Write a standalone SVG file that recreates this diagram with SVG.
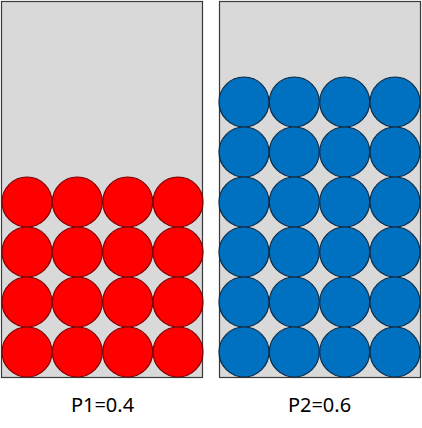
<svg xmlns="http://www.w3.org/2000/svg" width="422" height="428" viewBox="0 0 422 428">
<style>
.box{fill:#d9d9d9;stroke:#3a3a3a;stroke-width:1.2}
.r{fill:#ff0000;stroke:#7a0000;stroke-width:1.2}
.b{fill:#0070c0;stroke:#0d2a44;stroke-width:1.2}
.lbl{font-family:"Noto Sans","Open Sans","DejaVu Sans",sans-serif;font-size:20px;fill:#000;text-anchor:middle}
</style>
<g id="container1">
<rect class="box" x="1.5" y="1.5" width="201" height="376"/>
<g id="red-balls">
<circle class="r" cx="27" cy="202" r="25"/><circle class="r" cx="77.3" cy="202" r="25"/><circle class="r" cx="127.7" cy="202" r="25"/><circle class="r" cx="178" cy="202" r="25"/>
<circle class="r" cx="27" cy="252" r="25"/><circle class="r" cx="77.3" cy="252" r="25"/><circle class="r" cx="127.7" cy="252" r="25"/><circle class="r" cx="178" cy="252" r="25"/>
<circle class="r" cx="27" cy="302" r="25"/><circle class="r" cx="77.3" cy="302" r="25"/><circle class="r" cx="127.7" cy="302" r="25"/><circle class="r" cx="178" cy="302" r="25"/>
<circle class="r" cx="27" cy="352" r="25"/><circle class="r" cx="77.3" cy="352" r="25"/><circle class="r" cx="127.7" cy="352" r="25"/><circle class="r" cx="178" cy="352" r="25"/>
</g>
<text class="lbl" x="102.5" y="412">P1=0.4</text>
</g>
<g id="container2">
<rect class="box" x="219.5" y="1.5" width="201" height="376"/>
<g id="blue-balls">
<circle class="b" cx="244" cy="102" r="25"/><circle class="b" cx="294.3" cy="102" r="25"/><circle class="b" cx="344.7" cy="102" r="25"/><circle class="b" cx="395" cy="102" r="25"/>
<circle class="b" cx="244" cy="152" r="25"/><circle class="b" cx="294.3" cy="152" r="25"/><circle class="b" cx="344.7" cy="152" r="25"/><circle class="b" cx="395" cy="152" r="25"/>
<circle class="b" cx="244" cy="202" r="25"/><circle class="b" cx="294.3" cy="202" r="25"/><circle class="b" cx="344.7" cy="202" r="25"/><circle class="b" cx="395" cy="202" r="25"/>
<circle class="b" cx="244" cy="252" r="25"/><circle class="b" cx="294.3" cy="252" r="25"/><circle class="b" cx="344.7" cy="252" r="25"/><circle class="b" cx="395" cy="252" r="25"/>
<circle class="b" cx="244" cy="302" r="25"/><circle class="b" cx="294.3" cy="302" r="25"/><circle class="b" cx="344.7" cy="302" r="25"/><circle class="b" cx="395" cy="302" r="25"/>
<circle class="b" cx="244" cy="352" r="25"/><circle class="b" cx="294.3" cy="352" r="25"/><circle class="b" cx="344.7" cy="352" r="25"/><circle class="b" cx="395" cy="352" r="25"/>
</g>
<text class="lbl" x="319.5" y="412">P2=0.6</text>
</g>
</svg>
